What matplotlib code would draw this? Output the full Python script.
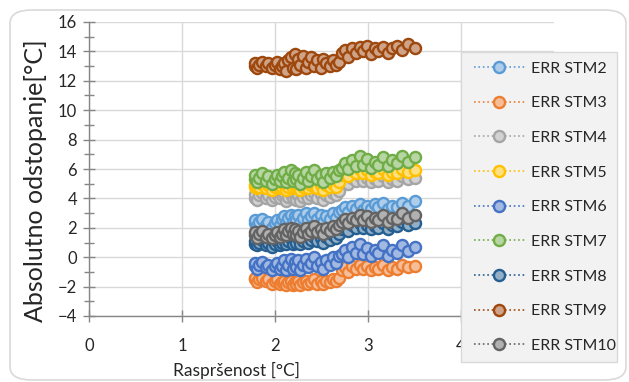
import matplotlib
matplotlib.use("Agg")
import matplotlib.pyplot as plt
from matplotlib.patches import FancyBboxPatch, Rectangle
from matplotlib.ticker import MultipleLocator
import matplotlib.colors as mcolors

plt.rcParams['font.family'] = ['Lato', 'DejaVu Sans']

x = [1.78, 1.79, 1.81, 1.83, 1.86, 1.90, 1.93, 1.97, 2.00, 2.02, 2.05, 2.08, 2.10,
     2.12, 2.14, 2.17, 2.19, 2.21, 2.23, 2.25, 2.27, 2.30, 2.33, 2.36, 2.39, 2.42,
     2.45, 2.49, 2.52, 2.55, 2.59, 2.62, 2.66, 2.69, 2.72, 2.75, 2.79, 2.83, 2.87,
     2.91, 2.95, 2.99, 3.03, 3.07, 3.11, 3.16, 3.21, 3.26, 3.31, 3.37, 3.43, 3.50]

stm2 = [2.3, 2.5, 2.1, 2.4, 2.6, 2.2, 2.4, 2.0, 2.3, 2.5, 2.2, 2.6, 2.8, 2.3, 2.7, 2.9, 2.4,
        2.8, 2.5, 2.9, 2.3, 2.7, 3.0, 2.5, 2.8, 3.0, 2.6, 2.9, 2.4, 2.8, 2.6, 3.0, 2.7, 3.1,
        3.2, 3.4, 3.1, 3.5, 3.3, 3.6, 3.2, 3.5, 3.3, 3.6, 3.4, 3.7, 3.3, 3.5, 3.4, 3.7, 3.5, 3.8]
stm3 = [-1.5, -1.4, -1.7, -1.5, -1.4, -1.6, -1.5, -1.8, -1.6, -1.5, -1.8, -1.7, -1.6, -1.9,
        -1.7, -1.6, -1.9, -1.7, -1.8, -1.6, -1.9, -1.7, -1.6, -1.8, -1.7, -1.5, -1.8, -1.6,
        -1.8, -1.6, -1.7, -1.5, -1.6, -1.4,
        -0.9, -0.7, -1.0, -0.6, -0.8, -0.5, -0.8, -0.6, -0.9, -0.7, -0.8, -0.5, -0.9, -0.7,
        -0.8, -0.5, -0.7, -0.6]
stm4 = [4.0, 4.3, 3.9, 4.2, 4.4, 4.0, 4.2, 3.9, 4.1, 4.3, 4.0, 4.2, 4.4, 3.8, 4.1, 4.3, 4.0,
        4.2, 3.9, 4.2, 3.8, 4.1, 4.3, 4.0, 4.2, 4.4, 4.0, 4.3, 3.9, 4.2, 4.1, 4.4, 4.2, 4.5,
        5.1, 5.3, 5.0, 5.4, 5.2, 5.5, 5.2, 5.4, 5.1, 5.3, 5.2, 5.5, 5.1, 5.3, 5.2, 5.5, 5.3, 5.4]
stm5 = [4.8, 4.9, 4.7, 4.8, 5.0, 4.7, 4.9, 4.6, 4.8, 4.9, 4.7, 4.8, 5.0, 4.6, 4.8, 5.0, 4.7,
        4.9, 4.7, 4.8, 4.6, 4.8, 5.0, 4.7, 4.9, 5.0, 4.7, 4.9, 4.6, 4.9, 4.8, 5.0, 4.8, 5.1,
        5.6, 5.8, 5.5, 5.9, 5.7, 6.0, 5.7, 5.9, 5.6, 5.8, 5.7, 6.0, 5.6, 5.8, 5.7, 6.0, 5.8, 5.9]
stm6 = [-0.6, -0.4, -0.8, -0.5, -0.3, -0.7, -0.5, -0.9, -0.6, -0.4, -0.8, -0.6, -0.2, -0.9,
        -0.5, -0.1, -0.8, -0.3, -0.7, -0.2, -0.9, -0.5, -0.1, -0.7, -0.4, 0.0, -0.6, -0.3,
        -0.8, -0.2, -0.5, 0.0, -0.4, 0.1,
        0.2, 0.5, 0.0, 0.7, 0.3, 0.9, 0.2, 0.6, 0.1, 0.5, 0.3, 0.8, 0.1, 0.5, 0.3, 0.8, 0.4, 0.7]
stm7 = [5.3, 5.6, 5.1, 5.4, 5.7, 5.2, 5.5, 5.0, 5.3, 5.6, 5.2, 5.5, 5.8, 5.1, 5.4, 5.9, 5.2,
        5.7, 5.3, 5.6, 5.0, 5.4, 5.8, 5.2, 5.5, 5.9, 5.3, 5.6, 5.1, 5.7, 5.4, 5.8, 5.5, 5.9,
        6.1, 6.4, 6.0, 6.6, 6.2, 6.9, 6.3, 6.7, 6.1, 6.5, 6.3, 6.8, 6.2, 6.6, 6.4, 6.9, 6.5, 6.8]
stm8 = [0.9, 1.1, 0.8, 1.0, 1.2, 0.8, 1.0, 0.7, 0.9, 1.1, 0.8, 1.0, 1.2, 0.9, 1.1, 1.3, 0.9,
        1.2, 1.0, 1.3, 0.9, 1.1, 1.4, 1.0, 1.2, 1.4, 1.1, 1.3, 1.0, 1.4, 1.2, 1.5, 1.3, 1.6,
        1.9, 2.1, 1.8, 2.2, 2.0, 2.3, 2.0, 2.2, 1.9, 2.1, 2.0, 2.3, 1.9, 2.2, 2.1, 2.4, 2.2, 2.3]
stm9 = [13.0, 13.2, 12.9, 13.1, 13.3, 13.0, 13.2, 12.9, 13.1, 13.3, 12.8, 13.0, 13.2, 12.7,
        13.4, 13.6, 12.9, 13.8, 12.8, 13.5, 13.1, 13.7, 12.9, 13.3, 13.6, 13.0, 13.4, 12.9,
        13.5, 13.2, 13.0, 13.4, 13.1, 13.3,
        13.9, 14.1, 13.6, 14.2, 13.9, 14.3, 14.0, 14.4, 13.8, 14.2, 14.0, 14.3, 13.9, 14.2,
        14.4, 14.1, 14.5, 14.2]
stm10 = [1.5, 1.7, 1.3, 1.6, 1.8, 1.4, 1.6, 1.3, 1.5, 1.7, 1.4, 1.6, 1.9, 1.5, 1.8, 2.0, 1.6,
         1.9, 1.5, 1.8, 1.4, 1.7, 2.0, 1.6, 1.8, 2.1, 1.7, 1.9, 1.6, 2.0, 1.8, 2.1, 1.9, 2.2,
         2.4, 2.6, 2.3, 2.7, 2.5, 2.9, 2.5, 2.8, 2.4, 2.7, 2.5, 2.9, 2.4, 2.7, 2.6, 3.0, 2.7, 2.9]

labels = ["ERR STM2", "ERR STM3", "ERR STM4", "ERR STM5", "ERR STM6",
          "ERR STM7", "ERR STM8", "ERR STM9", "ERR STM10"]
series = [stm2, stm3, stm4, stm5, stm6, stm7, stm8, stm9, stm10]
colors = ["#5B9BD5", "#ED7D31", "#A5A5A5", "#FFC000", "#4472C4",
          "#70AD47", "#255E91", "#9E480E", "#636363"]


def lighten(c, f=0.5):
    r, g, b = mcolors.to_rgb(c)
    return (r + (1 - r) * f, g + (1 - g) * f, b + (1 - b) * f)


W, H = 629, 382
fig = plt.figure(figsize=(W / 100, H / 100), dpi=100)
fig.patch.set_facecolor("white")

border = FancyBboxPatch((10 / W, 2 / H), 616 / W, 370 / H,
                        boxstyle="round,pad=0,rounding_size=0.035",
                        transform=fig.transFigure, facecolor="none",
                        edgecolor="#D9D9D9", linewidth=1.2, zorder=0)
fig.patches.append(border)

ax = fig.add_axes([89 / W, 1 - 316 / H, 465 / W, 294 / H])
ax.set_facecolor("none")

for ys, lab, c in zip(series, labels, colors):
    ax.plot(x, ys, linestyle=":", linewidth=1.2, color=c, marker="o",
            markersize=8, markeredgewidth=1.7, markeredgecolor=c,
            markerfacecolor=lighten(c), label=lab)

ax.set_xlim(0, 5)
ax.set_ylim(-4, 16)
ax.xaxis.set_major_locator(MultipleLocator(1))
ax.yaxis.set_major_locator(MultipleLocator(2))
ax.yaxis.set_minor_locator(MultipleLocator(1))
ax.set_xticks([0, 1, 2, 3, 4])
ax.grid(True, which="major", color="#D9D9D9", linewidth=1.0)
ax.set_axisbelow(True)
for s in ["top", "right"]:
    ax.spines[s].set_visible(False)
for s in ["left", "bottom"]:
    ax.spines[s].set_color("#868686")
    ax.spines[s].set_linewidth(1.0)
ax.tick_params(axis="y", which="major", direction="inout", length=9, width=1,
               color="#868686", labelsize=12, labelcolor="#262626", pad=4)
ax.tick_params(axis="y", which="minor", direction="inout", length=7, width=1,
               color="#868686")
ax.tick_params(axis="x", which="major", direction="inout", length=8, width=1,
               color="#868686", labelsize=12, labelcolor="#262626", pad=12)

ax.set_ylabel("Absolutno odstopanje[°C]", fontsize=18, color="#262626")
ax.yaxis.set_label_coords(-0.09, 0.46)
ax.set_xlabel("Raspršenost [°C]", fontsize=12.5, color="#262626")
ax.xaxis.set_label_coords(0.318, -0.155)

# legend frame
frame = Rectangle((461 / W, 1 - 362 / H), 156 / W, 310 / H,
                  transform=fig.transFigure, facecolor="#F2F2F2",
                  edgecolor="#D9D9D9", linewidth=1.0, zorder=5)
fig.patches.append(frame)

leg = fig.legend(loc="upper left", bbox_to_anchor=(464 / W, 1 - 52 / H),
                 frameon=False, fontsize=11.5, handlelength=3.2, handletextpad=0.4,
                 labelspacing=1.28, borderpad=0.6, borderaxespad=0)
leg.set_zorder(6)
for t in leg.get_texts():
    t.set_color("#262626")

fig.savefig("out.png", dpi=100)
